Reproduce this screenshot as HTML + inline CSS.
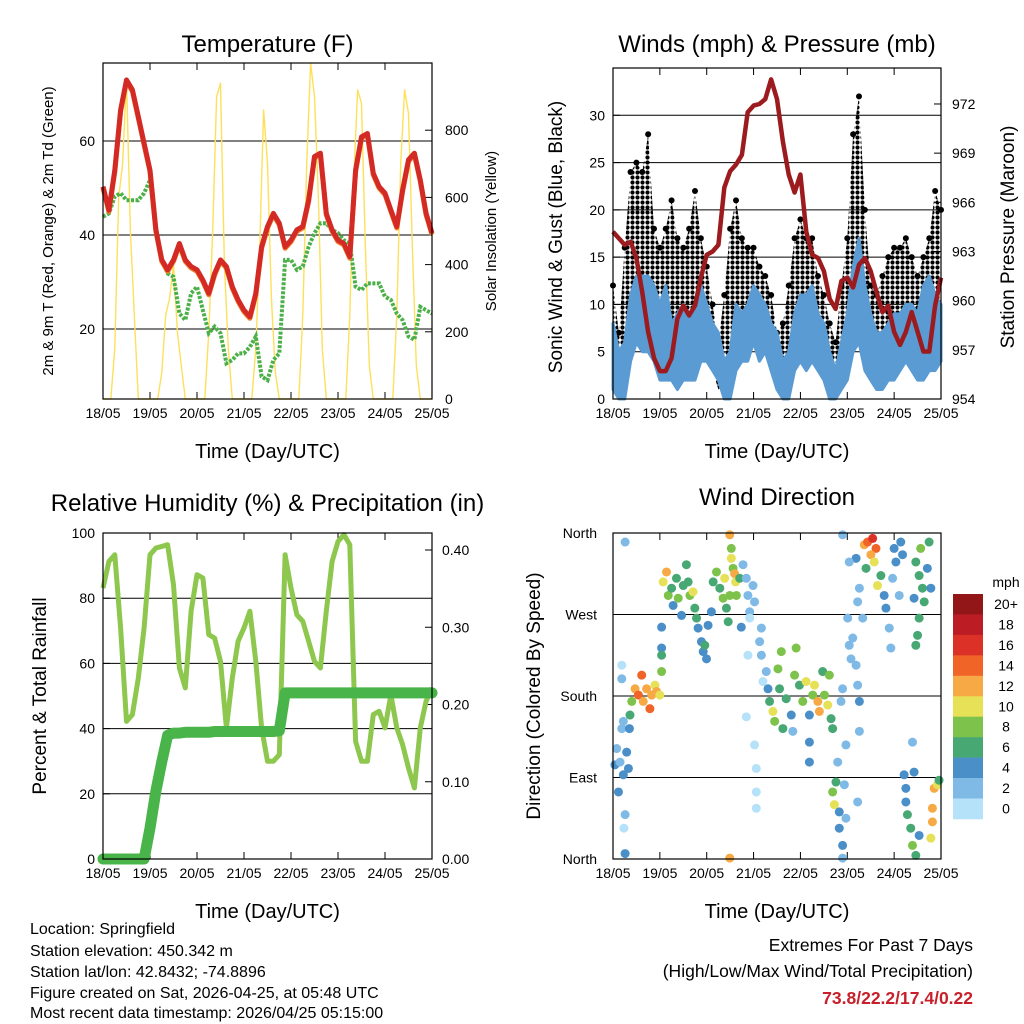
<!DOCTYPE html>
<html><head><meta charset="utf-8"><style>
html,body{margin:0;padding:0;background:#fff}
svg{display:block;font-family:"Liberation Sans",sans-serif}
</style></head><body>
<svg id="c" width="1024" height="1024" viewBox="0 0 1024 1024" xmlns="http://www.w3.org/2000/svg">
<defs>
<pattern id="dots" width="5" height="5" patternUnits="userSpaceOnUse"><circle cx="2.5" cy="2.5" r="2.1" fill="#000"/></pattern>
</defs>
<rect width="1024" height="1024" fill="#fff"/>
<g id="g1"></g>
<g id="g2"></g>
<g id="g3"></g>
<g id="g4"></g>
<g font-size="16" fill="#000">
<text x="30" y="934">Location: Springfield</text>
<text x="30" y="956">Station elevation: 450.342 m</text>
<text x="30" y="977">Station lat/lon: 42.8432; -74.8896</text>
<text x="30" y="998">Figure created on Sat, 2026-04-25, at 05:48 UTC</text>
<text x="30" y="1018">Most recent data timestamp: 2026/04/25 05:15:00</text>
</g>
<g font-size="17.5" text-anchor="end">
<text x="973" y="951">Extremes For Past 7 Days</text>
<text x="973" y="977">(High/Low/Max Wind/Total Precipitation)</text>
<text x="973" y="1004" fill="#c8202a" font-weight="bold">73.8/22.2/17.4/0.22</text>
</g>
</svg>
<script>
var dayLabels=["18/05","19/05","20/05","21/05","22/05","23/05","24/05","25/05"];
// 3-hourly series (57 points, 18/05 00Z .. 25/05 00Z)
var tempF=[50.3,45.3,53.8,66.6,73.0,70.9,65.2,59.5,53.8,41.1,34.7,32.6,34.7,38.2,34.7,33.3,32.6,30.4,27.6,31.8,34.7,33.3,29.0,26.2,24.0,22.6,27.6,37.5,41.8,44.6,42.5,37.5,38.9,41.1,41.8,47.4,56.7,57.4,44.6,41.1,38.9,38.2,35.4,53.8,60.9,61.6,53.1,50.3,48.9,45.3,41.8,49.6,56.0,57.4,51.7,44.6,40.4];
var dewF=[43.9,44.6,48.2,48.9,47.4,47.4,47.4,48.9,51.7,41.8,34.7,31.8,31.1,23.3,21.9,27.6,29.0,24.0,19.1,20.5,19.1,12.7,13.4,14.8,14.8,16.2,18.4,9.9,9.1,13.4,14.8,34.7,34.7,32.6,33.3,37.5,40.4,42.5,42.5,41.1,40.4,38.9,38.2,29.0,28.3,29.7,29.7,29.7,26.9,26.2,23.3,21.9,18.4,17.7,24.7,24.0,23.3];
// 2-hourly solar insolation (85 points)
var solar=[0,0,0,150,600,700,950,500,250,0,0,0, 0,0,0,80,250,300,400,200,100,0,0,0, 0,0,0,200,500,900,940,400,150,0,0,0, 0,0,0,150,450,860,700,300,80,0,0,0, 0,0,0,250,700,1000,900,600,150,0,0,0, 0,0,0,250,650,920,880,450,100,0,0,0, 0,0,0,250,700,920,850,450,100,0,0,0, 0];
var pressure=[964.2,963.8,963.4,963.6,962.6,960.5,958.1,956.5,955.7,955.7,956.5,958.9,959.7,959.1,959.7,961.4,962.8,963.0,963.4,966.9,967.9,968.3,968.9,971.5,971.9,972.0,972.3,973.5,972.3,969.7,967.7,966.6,967.7,964.2,962.8,962.6,961.8,960.1,959.5,961.2,961.4,960.8,962.2,962.6,961.8,960.5,959.3,959.7,958.1,957.3,958.1,959.3,958.1,956.9,956.9,959.7,961.4];
var windLo=[1,0,0,4,6,5,5,4,2,2,2,1,2,2,2,4,4,3,2,0,0,3,4,4,6,4,5,3,1,0,0,3,4,3,4,3,2,0,0,1,2,5,6,3,2,1,1,2,2,3,4,3,2,2,3,3,4];
var windHi=[8,5,6,11,13,13,13,12,10,12,8,9,10,8,10,12,10,8,7,4,5,10,9,10,12,11,10,8,7,4,5,9,11,11,12,9,8,5,3,6,9,14,17,12,9,7,7,8,9,9,10,10,9,12,13,11,10];
var gustLo=[3,3,6,10,10,8,9,5,5,5,6,5,7,8,9,7,4,3,1,1,4,6,6,6,6,6,5,3,1,1,3,5,7,6,7,5,4,1,0,4,6,10,9,6,3,2,4,5,5,5,7,5,3,5,6,8,7];
var gustHi=[12,7,16,24,25,24,28,18,16,18,21,17,16,18,22,17,14,10,6,11,18,21,17,16,16,14,13,11,7,8,12,17,19,17,17,13,11,8,6,12,17,28,32,20,12,11,13,15,16,16,17,15,13,15,17,22,20];
var rhPct=[83.1,91.3,93.3,70.9,42.2,44.3,55.5,70.9,93.3,95.4,95.9,96.4,84.1,58.6,52.5,76,87.2,86.2,68.8,67.8,60.6,40.2,55.5,66.8,70.9,76,60.6,40.2,30,30,32,93.3,83.1,74.9,72.9,66.8,60.6,58.6,76,91.3,97.4,99.5,96.4,36.1,30,30,44.3,45.3,40.2,50.4,40.2,35.1,27.9,21.8,40.2,48.4,52.5];
var precipIn=[0,0,0,0,0,0,0,0,0.04,0.088,0.126,0.160,0.163,0.163,0.164,0.164,0.164,0.164,0.164,0.165,0.165,0.165,0.165,0.165,0.165,0.165,0.165,0.165,0.165,0.165,0.166,0.215,0.215,0.215,0.215,0.215,0.215,0.215,0.215,0.215,0.215,0.215,0.215,0.215,0.215,0.215,0.215,0.215,0.215,0.215,0.215,0.215,0.215,0.215,0.215,0.215,0.215];
// wind direction observations: hour since 18/05 00Z, direction (deg), speed (mph)
var dirHour=[1,1.9,3.6,5.3,7,7.9,2.8,4.5,5.3,6.2,5.6,6.2,4.5,6.2,4.5,8.4,8.7,9.6,11.3,13,14.7,15.5,17.2,18.9,19.8,21.5,22.3,24,24.9,24.9,24.9,24.9,25.7,27.4,28.3,30,30.8,32.5,33.4,35.1,36,38.5,39.4,41,41.9,42.8,37.6,43.6,45.3,46.2,47.9,47,48.7,50.4,51.3,53,54.7,56.4,57.2,58.1,59,59.8,60.6,60.6,61.5,62.3,62.8,63.2,64.9,66.6,68.3,69.1,70,71.7,72.5,65.7,59.8,59.8,76,76,76.8,75.1,78.5,79.4,80.2,81.9,82.8,84.5,85.3,86.2,87,88.7,91.3,92.1,93,93.8,95.5,97.2,98.9,100.6,100.6,100.6,102.3,103.2,104.9,105.7,107.4,108.3,110,110.8,111.7,112.5,68.3,72.5,73.4,73.4,73.4,69.1,70,112.5,113.4,114.2,115.1,115.9,115.9,117.6,118.5,119.3,117.6,116.8,117.6,117.6,121,121.9,122.8,124.5,126.2,125.3,125.3,126.2,124.5,127.9,128.7,130.4,133,134.7,132.1,133.8,129.6,135.5,137.2,138.9,139.8,141.5,142.3,143.2,144,144.9,147.4,148.3,146.6,149.1,150,150.8,152.5,153.4,155.1,156.8,150,154.2,155.1,156.8,157.6,158.5,159.4,161,161.9,156.8,156,162.8,163.6,163.6,164.5,166.2,167,162.8,155.1,154.2,121,120.2,126.2,119.3,125.3,153.4];
var dirDeg=[104,122,107,93,118,100,74,144,152,49,34,6,214,350,199,144,159,174,188,181,203,174,188,166,181,192,185,181,207,233,256,225,306,317,291,299,280,310,288,269,302,306,291,295,277,266,325,255,240,229,221,236,258,273,306,317,299,288,310,277,262,291,343,332,321,315,306,291,310,325,310,291,273,302,284,256,358,1,255,225,196,240,207,188,174,163,152,210,188,229,144,177,159,141,203,233,192,174,196,159,129,107,181,192,174,163,207,181,170,203,155,144,157,126,100,74,56,225,266,74,60,85,107,52,34,15,82,45,1,174,188,358,236,221,244,214,174,192,284,299,332,266,347,350,354,343,336,328,321,302,313,291,277,255,233,310,343,328,350,336,291,93,63,49,34,15,4,26,78,96,328,313,343,299,284,321,350,266,247,299,56,41,78,82,87,23,236,288,328,266,141,126,63,129];
var dirSpd=[4.5,3,3,4.5,4.5,4.5,4.5,3,3,3,1,4.5,1,3,3,4.5,6.5,8.5,12.5,14.5,14.5,12.5,12.5,14.5,12.5,10.5,12.5,10.5,8.5,4.5,4.5,6.5,10.5,12.5,8.5,6.5,4.5,6.5,8.5,4.5,6.5,6.5,8.5,10.5,6.5,6.5,6.5,4.5,4.5,4.5,4.5,6.5,4.5,4.5,6.5,8.5,6.5,8.5,10.5,6.5,6.5,8.5,8.5,10.5,8.5,12.5,10.5,8.5,6.5,3,3,3,3,3,3,4.5,12.5,12.5,3,3,1,3,3,4.5,6.5,10.5,8.5,8.5,6.5,8.5,6.5,6.5,4.5,3,8.5,8.5,6.5,8.5,10.5,4.5,4.5,4.5,8.5,10.5,12.5,12.5,6.5,8.5,10.5,8.5,6.5,6.5,1,1,1,1,1,1,1,8.5,10.5,6.5,3,4.5,4.5,4.5,3,3,3,3,3,3,3,3,3,3,4.5,3,3,3,4.5,3,12.5,14.5,16.5,14.5,12.5,10.5,6.5,10.5,6.5,4.5,4.5,3,3,3,4.5,4.5,4.5,4.5,3,4.5,4.5,6.5,6.5,8.5,6.5,4.5,4.5,4.5,6.5,6.5,8.5,6.5,6.5,4.5,6.5,6.5,6.5,4.5,12.5,12.5,12.5,10.5,6.5,10.5,6.5,4.5,3,3,3,3,3,3];
var speedBins=["0","2","4","6","8","10","12","14","16","18","20+"];
var binColors=["#b5e2f8","#7fbae6","#4a8fc7","#48a874","#7dc24b","#e6e157","#f7a945","#f06428","#dc3127","#bc1d24","#921518"];
</script>
<script>
var NS="http://www.w3.org/2000/svg";
function mk(parent,tag,attrs,txt){var e=document.createElementNS(NS,tag);for(var k in attrs)e.setAttribute(k,attrs[k]);if(txt!==undefined)e.textContent=txt;parent.appendChild(e);return e;}
var g1=document.getElementById('g1'),g2=document.getElementById('g2'),g3=document.getElementById('g3'),g4=document.getElementById('g4');

function frame(g,L,R,T,B,title,titleY,xTitleY){
  var t=mk(g,'text',{x:(L+R)/2,y:titleY,'text-anchor':'middle','font-size':24},title);
  
  
  for(var d=0;d<dayLabels.length;d++){
    var x=L+(R-L)*d/7;
    var lb=mk(g,'text',{x:x,y:B+19,'text-anchor':'middle','font-size':14},dayLabels[d]);
    
    
    mk(g,'line',{x1:x,x2:x,y1:B,y2:B-7,stroke:'#000','stroke-width':1});
    mk(g,'line',{x1:x,x2:x,y1:T,y2:T+7,stroke:'#000','stroke-width':1});
  }
  var xt=mk(g,'text',{x:(L+R)/2,y:xTitleY,'text-anchor':'middle','font-size':20},'Time (Day/UTC)');
  
  
}
function border(g,L,R,T,B){var r=mk(g,'rect',{x:L,y:T,width:R-L,height:B-T,fill:'none',stroke:'#000','stroke-width':1.2});
  
  }
function yTicks(g,vals,fy,L,R,labelX,anchor,fmt,grid,inward){
  for(var i=0;i<vals.length;i++){var y=fy(vals[i]);
    if(grid) mk(g,'line',{x1:L,x2:R,y1:y,y2:y,stroke:'#000','stroke-width':1});
    var lb=mk(g,'text',{x:labelX,y:y+5,'text-anchor':anchor,'font-size':14},fmt(vals[i]));
    
    
    mk(g,'line',{x1:inward,x2:inward+(anchor==='end'?7:-7),y1:y,y2:y,stroke:'#000'});
  }
}
function ytitle(g,x,y,txt,size){var t=mk(g,'text',{x:x,y:y,'text-anchor':'middle','font-size':size,transform:'rotate(-90 '+x+' '+y+')'},txt);
  
  }
function pts(arr,fx,fy,step){var s=[];for(var i=0;i<arr.length;i++)s.push(fx(i*step).toFixed(1)+','+fy(arr[i]).toFixed(1));return s;}

// ===== Panel 1: temperature
(function(){
  var L=103,R=432,T=63,B=399;
  var fx=function(h){return L+(R-L)*h/168;};
  var ty=function(t){return 329-(t-20)*4.7;};
  var sy=function(s){return 399-s*0.336;};
  frame(g1,L,R,T,B,'Temperature (F)',52,458);
  yTicks(g1,[20,40,60],ty,L,R,95,'end',String,true,L);
  yTicks(g1,[0,200,400,600,800],sy,L,R,445,'start',String,false,R);
  var s=mk(g1,'polyline',{points:pts(solar,fx,sy,2).join(' '),fill:'none',stroke:'#fde05a','stroke-width':1.4,'stroke-linejoin':'round'});
  
  
  var d=mk(g1,'polyline',{points:pts(dewF,fx,ty,3).join(' '),fill:'none',stroke:'#4cb048','stroke-width':4,'stroke-dasharray':'3 1.5'});
  
  
  var o=mk(g1,'polyline',{points:pts(tempF,fx,function(v){return ty(v)+1.5;},3).join(' '),fill:'none',stroke:'#f07f2a','stroke-width':5,'stroke-linejoin':'round'});
  
  
  var r=mk(g1,'polyline',{points:pts(tempF,fx,ty,3).join(' '),fill:'none',stroke:'#d42a25','stroke-width':5,'stroke-linejoin':'round'});
  
  
  border(g1,L,R,T,B);
  ytitle(g1,53,231,'2m & 9m T (Red, Orange) & 2m Td (Green)',15);
  ytitle(g1,496,231,'Solar Insolation (Yellow)',15);
})();

// ===== Panel 2: winds & pressure
(function(){
  var L=613,R=941,T=68,B=399;
  var fx=function(h){return L+(R-L)*h/168;};
  var wy=function(v){return 399-v*9.457;};
  var py=function(p){return 399-(p-954)*16.39;};
  frame(g2,L,R,T,B,'Winds (mph) & Pressure (mb)',52,458);
  yTicks(g2,[0,5,10,15,20,25,30],wy,L,R,605,'end',String,true,L);
  yTicks(g2,[954,957,960,963,966,969,972],py,L,R,952,'start',String,false,R);
  var top=pts(gustHi,fx,wy,3),bot=pts(gustLo,fx,wy,3).reverse();
  var gb=mk(g2,'polygon',{points:top.concat(bot).join(' '),fill:'url(#dots)',stroke:'none'});
  
  
  for(var i=0;i<gustHi.length;i++){
    var c=mk(g2,'circle',{cx:fx(i*3),cy:wy(gustHi[i]),r:3,fill:'#000'});
    
    
  }
  var wt=pts(windHi,fx,wy,3),wb=pts(windLo,fx,wy,3).reverse();
  var wband=mk(g2,'polygon',{points:wt.concat(wb).join(' '),fill:'#5a9bd4',stroke:'#5a9bd4','stroke-width':3,'stroke-linejoin':'round'});
  
  
  var p=mk(g2,'polyline',{points:pts(pressure,fx,py,3).join(' '),fill:'none',stroke:'#9b1b1e','stroke-width':4.5,'stroke-linejoin':'round'});
  
  
  border(g2,L,R,T,B);
  ytitle(g2,562,237,'Sonic Wind & Gust (Blue, Black)',19);
  ytitle(g2,1014,237,'Station Pressure (Maroon)',19);
})();

// ===== Panel 3: RH & precipitation
(function(){
  var L=103,R=432,T=533,B=859;
  var fx=function(h){return L+(R-L)*h/168;};
  var ry=function(v){return 859-v*3.26;};
  var qy=function(v){return 859-v*772.5;};
  frame(g3,L,R,T,B,'Relative Humidity (%) & Precipitation (in)',511,918);
  yTicks(g3,[0,20,40,60,80,100],ry,L,R,95,'end',String,true,L);
  yTicks(g3,[0,0.1,0.2,0.3,0.4],qy,L,R,442,'start',function(v){return v.toFixed(2);},false,R);
  var rh=mk(g3,'polyline',{points:pts(rhPct,fx,ry,3).join(' '),fill:'none',stroke:'#8dc74e','stroke-width':5,'stroke-linejoin':'round'});
  
  
  var pr=mk(g3,'polyline',{points:pts(precipIn,fx,qy,3).join(' '),fill:'none',stroke:'#49b449','stroke-width':11,'stroke-linejoin':'round','stroke-linecap':'round'});
  
  
  border(g3,L,R,T,B);
  ytitle(g3,46,696,'Percent & Total Rainfall',19);
})();

// ===== Panel 4: wind direction
(function(){
  var L=613,R=941,T=533,B=859;
  var fx=function(h){return L+(R-L)*h/168;};
  var dy=function(d){return 859-d*326/360;};
  frame(g4,L,R,T,B,'Wind Direction',505,918);
  var names=['North','East','South','West','North'];
  for(var k=0;k<5;k++){var y=dy(k*90);
    mk(g4,'line',{x1:L,x2:R,y1:y,y2:y,stroke:'#000','stroke-width':1});
    var lb=mk(g4,'text',{x:597,y:y+5,'text-anchor':'end','font-size':14},names[k]);
    
    
  }
  for(var i=0;i<dirHour.length;i++){
    var b=Math.min(10,Math.floor(dirSpd[i]/2));
    var c=mk(g4,'circle',{cx:fx(dirHour[i]),cy:dy(dirDeg[i]),r:4.5,fill:binColors[b]});
    
    
  }
  border(g4,L,R,T,B);
  ytitle(g4,540,696,'Direction (Colored By Speed)',19);
  var cb=mk(g4,'g',{});
  
  
  var top=594,h=20.45;
  for(var j=0;j<speedBins.length;j++){
    var idx=speedBins.length-1-j;
    var rc=mk(cb,'rect',{x:953,y:top+j*h,width:30,height:h+0.3,fill:binColors[idx]});
    
    
    var tl=mk(cb,'text',{x:1006,y:top+j*h+15,'text-anchor':'middle','font-size':14},speedBins[idx]);
    
    
  }
  var u=mk(cb,'text',{x:1006,y:587,'text-anchor':'middle','font-size':14},'mph');
  
  
})();
</script>
</body></html>
